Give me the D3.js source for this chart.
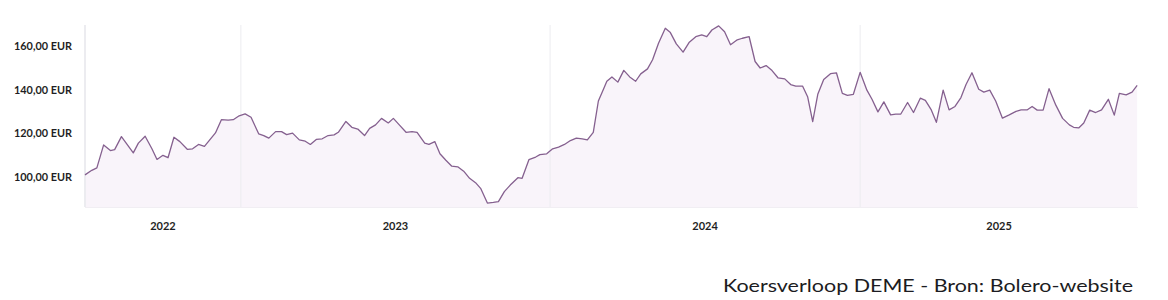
<!DOCTYPE html>
<html>
<head>
<meta charset="utf-8">
<script src="https://cdn.jsdelivr.net/npm/d3@7"></script>
<style>
  html, body { margin: 0; padding: 0; background: #ffffff; }
  svg { display: block; }
</style>
</head>
<body>
<svg id="chart" width="1168" height="300"></svg>
<script>
// ---- Data ----
const dates = [
  "2022-07-01","2022-07-09","2022-07-15","2022-07-23","2022-07-31","2022-08-05","2022-08-13","2022-08-27",
  "2022-09-02","2022-09-10","2022-09-18","2022-09-24","2022-10-01","2022-10-07","2022-10-14","2022-10-21",
  "2022-10-30","2022-11-05","2022-11-12","2022-11-19","2022-12-02","2022-12-09","2022-12-17","2022-12-23",
  "2022-12-30","2023-01-06","2023-01-13","2023-01-22","2023-01-28","2023-02-03","2023-02-11","2023-02-18",
  "2023-02-24","2023-03-03","2023-03-11","2023-03-18","2023-03-24","2023-03-31","2023-04-07","2023-04-14",
  "2023-04-21","2023-04-26","2023-05-05","2023-05-12","2023-05-19","2023-05-27","2023-06-02","2023-06-09",
  "2023-06-16","2023-06-24","2023-06-30","2023-07-07","2023-07-15","2023-07-22","2023-07-28","2023-08-06",
  "2023-08-11","2023-08-18","2023-08-24","2023-08-31","2023-09-07","2023-09-14","2023-09-21","2023-09-28",
  "2023-10-05","2023-10-11","2023-10-19","2023-10-26","2023-11-01","2023-11-08","2023-11-15","2023-11-24",
  "2023-11-29","2023-12-07","2023-12-15","2023-12-20","2023-12-28","2024-01-04","2024-01-11","2024-01-18",
  "2024-01-25","2024-02-01","2024-02-08","2024-02-14","2024-02-21","2024-02-27","2024-03-04","2024-03-08",
  "2024-03-14","2024-03-21","2024-03-28","2024-04-04","2024-04-11","2024-04-17","2024-04-25","2024-05-01",
  "2024-05-08","2024-05-16","2024-05-22","2024-05-29","2024-06-06","2024-06-13","2024-06-21","2024-06-28",
  "2024-07-04","2024-07-10","2024-07-18","2024-07-25","2024-08-01","2024-08-09","2024-08-15","2024-08-23",
  "2024-08-30","2024-09-05","2024-09-12","2024-09-19","2024-09-26","2024-10-04","2024-10-11","2024-10-17",
  "2024-10-25","2024-10-31","2024-11-06","2024-11-12","2024-11-19","2024-11-27","2024-12-04","2024-12-11",
  "2024-12-17","2024-12-24","2025-01-01","2025-01-09","2025-01-15","2025-01-22","2025-01-29","2025-02-06",
  "2025-02-12","2025-02-18","2025-02-26","2025-03-05","2025-03-13","2025-03-19","2025-03-26","2025-04-01",
  "2025-04-09","2025-04-16","2025-04-23","2025-04-30","2025-05-06","2025-05-13","2025-05-21","2025-05-27",
  "2025-06-03","2025-06-10","2025-06-18","2025-06-26","2025-07-04","2025-07-10","2025-07-17","2025-07-23",
  "2025-07-29","2025-08-05","2025-08-12","2025-08-20","2025-08-28","2025-09-05","2025-09-10","2025-09-16",
  "2025-09-22","2025-09-29","2025-10-06","2025-10-13","2025-10-21","2025-10-28","2025-11-03","2025-11-11",
  "2025-11-18","2025-11-24"
];
const prices = [
  100.6,102.7,103.8,114.4,111.8,112.2,118.2,110.7,
  115.2,118.4,112.6,107.7,109.6,108.5,117.9,115.9,
  112.3,112.6,114.6,113.7,119.9,126.0,125.8,126.0,
  127.8,128.7,127.1,119.5,118.7,117.5,120.5,120.5,
  119.1,119.8,116.7,116.1,114.6,116.9,117.2,118.7,
  119.0,120.2,125.2,122.5,121.7,118.7,122.0,123.6,
  126.6,124.5,126.6,123.6,120.2,120.5,120.2,115.2,
  114.6,115.9,110.3,107.3,104.6,104.3,102.3,99.0,
  97.0,94.4,87.6,87.9,88.3,92.9,95.9,99.3,
  99.0,107.6,108.8,109.9,110.3,112.6,113.4,114.6,
  116.4,117.5,117.2,116.7,120.2,134.6,140.0,143.7,
  145.7,143.3,148.7,145.7,143.7,147.1,149.4,153.6,
  161.2,168.1,166.1,160.9,157.1,161.5,164.2,165.0,
  164.2,167.3,169.2,166.5,160.5,162.8,163.5,164.2,
  152.8,149.8,150.9,148.6,145.3,144.8,142.2,141.5,
  141.5,136.6,125.1,137.7,144.5,147.2,147.6,138.1,
  137.2,137.7,147.8,139.6,135.4,129.6,134.2,128.2,
  128.6,128.6,133.9,129.3,135.9,134.9,130.5,124.8,
  139.6,130.5,132.1,136.2,142.2,147.6,140.0,138.7,
  139.6,134.6,126.7,128.2,129.8,130.5,130.5,132.1,
  130.4,130.4,140.3,132.7,126.6,123.6,122.5,122.2,
  124.5,130.4,129.3,130.5,135.4,128.1,138.1,137.4,
  138.7,141.8
];
const yTicks = [100, 120, 140, 160];
const yearLabels = ["2022", "2023", "2024", "2025"];
const yearBounds = ["2023-01-01", "2024-01-01", "2025-01-01"];
const xDomain = ["2022-07-01", "2025-11-25"];
const yDomain = [85.8, 169.6];
const caption = "Koersverloop DEME - Bron: Bolero-website";

// ---- Chart ----
const parse = d3.utcParse("%Y-%m-%d");
const data = dates.map((d, i) => ({ date: parse(d), value: prices[i] }));

const svg = d3.select("#chart");
const plot = { left: 85, right: 1138, top: 25, bottom: 207 };

const x = d3.scaleUtc()
  .domain(xDomain.map(parse))
  .range([plot.left, plot.right]);
const y = d3.scaleLinear()
  .domain(yDomain)
  .range([plot.bottom, plot.top]);

// fill area
const area = d3.area()
  .x(d => x(d.date))
  .y0(plot.bottom)
  .y1(d => y(d.value));
svg.append("path")
  .datum(data)
  .attr("d", area)
  .attr("fill", "#f9f4fa");

// year boundary grid lines
const bounds = yearBounds.map(parse);
svg.append("g")
  .selectAll("line")
  .data(bounds)
  .join("line")
  .attr("x1", d => x(d)).attr("x2", d => x(d))
  .attr("y1", plot.top).attr("y2", plot.bottom)
  .attr("stroke", "#ececf0")
  .attr("stroke-width", 1);

// left edge line
svg.append("line")
  .attr("x1", plot.left).attr("x2", plot.left)
  .attr("y1", plot.top).attr("y2", plot.bottom)
  .attr("stroke", "#ececf0")
  .attr("stroke-width", 2);

// bottom baseline
svg.append("line")
  .attr("x1", plot.left).attr("x2", plot.right)
  .attr("y1", plot.bottom + 0.5).attr("y2", plot.bottom + 0.5)
  .attr("stroke", "#f1eef3")
  .attr("stroke-width", 1);

// price line
const line = d3.line()
  .x(d => x(d.date))
  .y(d => y(d.value));
svg.append("path")
  .datum(data)
  .attr("d", line)
  .attr("fill", "none")
  .attr("stroke", "#85608f")
  .attr("stroke-width", 1.3)
  .attr("stroke-linejoin", "round");

// y axis labels
const yAxis = d3.axisLeft(y)
  .tickValues(yTicks)
  .tickSize(0)
  .tickPadding(0)
  .tickFormat(d => d3.format(".2f")(d).replace(".", ",") + " EUR");
const gy = svg.append("g")
  .attr("transform", `translate(72,0)`)
  .call(yAxis);
gy.select(".domain").remove();
gy.selectAll("text")
  .attr("font-family", "Lato, 'DejaVu Sans', sans-serif")
  .attr("font-weight", "bold")
  .attr("font-size", "11px")
  .attr("fill", "#1f1f24")
  .attr("textLength", 58)
  .attr("lengthAdjust", "spacingAndGlyphs")
  .attr("dy", "0.35em");

// x axis year labels, centred within each year span
const edges = [x.domain()[0], ...bounds, x.domain()[1]];
const mids = yearLabels.map((lab, i) => ({
  label: lab,
  date: new Date((edges[i].getTime() + edges[i + 1].getTime()) / 2)
}));
svg.append("g")
  .selectAll("text")
  .data(mids)
  .join("text")
  .attr("x", d => x(d.date))
  .attr("y", 230)
  .attr("text-anchor", "middle")
  .attr("font-family", "Lato, 'DejaVu Sans', sans-serif")
  .attr("font-weight", "bold")
  .attr("font-size", "11px")
  .attr("fill", "#1f1f24")
  .text(d => d.label);

// caption
svg.append("text")
  .attr("x", 723)
  .attr("y", 292)
  .attr("font-family", "Lato, 'Noto Sans', sans-serif")
  .attr("font-weight", 400)
  .attr("font-size", "18px")
  .attr("fill", "#1c1c22")
  .attr("textLength", 410)
  .attr("lengthAdjust", "spacingAndGlyphs")
  .text(caption);
</script>
</body>
</html>
